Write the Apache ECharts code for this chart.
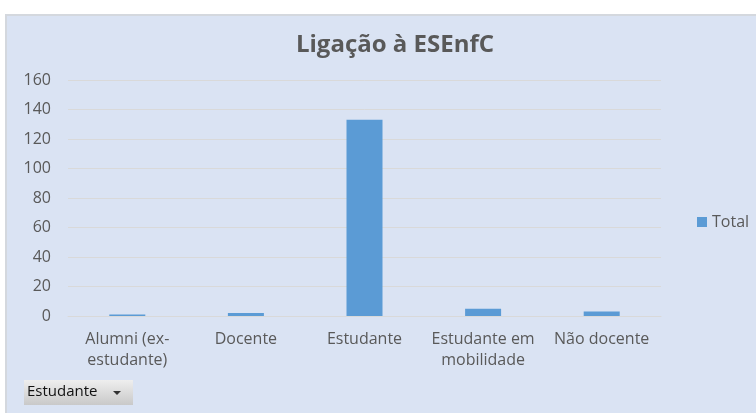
<!DOCTYPE html>
<html><head><meta charset="utf-8">
<script src="https://cdn.jsdelivr.net/npm/echarts@6/dist/echarts.min.js"></script>
<style>html,body{margin:0;padding:0;background:#fff}#c{width:756px;height:413px}</style>
</head><body><div id="c"></div>
<script>
const categories = ["Alumni (ex-\nestudante)", "Docente", "Estudante", "Estudante em\nmobilidade", "Não docente"];
const totals = [1, 2, 133, 5, 3];
const yTicks = {min: 0, max: 160, interval: 20};
const titleText = "Ligação à ESEnfC";
const seriesName = "Total";
const filterLabel = "Estudante";

const chart = echarts.init(document.getElementById('c'));
const font = "'Open Sans', 'Noto Sans', sans-serif";
chart.setOption({
  backgroundColor: '#ffffff',
  animation: false,
  graphic: [
    {type: 'rect', z: -10, shape: {x: 6, y: 15, width: 752, height: 400},
     style: {fill: '#dae3f3', stroke: '#d4d8de', lineWidth: 2}},
    {type: 'rect', shape: {x: 24, y: 380, width: 109, height: 25},
     style: {fill: {type: 'linear', x: 0, y: 0, x2: 0, y2: 1,
       colorStops: [{offset: 0, color: '#eeeeee'}, {offset: 1, color: '#c9c9c9'}]}}},
    {type: 'text', left: 27, top: 384,
     style: {text: filterLabel, font: "15px " + font, fill: '#111'}},
    {type: 'polygon', shape: {points: [[113, 391], [121, 391], [117, 395]]}, style: {fill: '#333'}}
  ],
  title: {
    text: titleText, left: 390, top: 28, textAlign: 'center',
    textStyle: {fontFamily: font, fontSize: 24, fontWeight: 'bold', color: '#595959'}
  },
  legend: {
    data: [seriesName], orient: 'vertical', left: 692, top: 209,
    itemWidth: 10, itemHeight: 10, itemGap: 5,
    textStyle: {fontFamily: font, fontSize: 16, color: '#595959'},
    icon: 'rect'
  },
  grid: {left: 68, right: 95, top: 80, bottom: 97},
  xAxis: {
    type: 'category', data: categories,
    axisLine: {lineStyle: {color: '#d9d9d9', width: 1}},
    axisTick: {show: false},
    axisLabel: {fontFamily: font, fontSize: 16, color: '#595959', margin: 13, lineHeight: 21, interval: 0}
  },
  yAxis: {
    type: 'value', min: yTicks.min, max: yTicks.max, interval: yTicks.interval,
    axisLine: {show: false}, axisTick: {show: false},
    splitLine: {lineStyle: {color: '#d9d9d9', width: 1}},
    axisLabel: {fontFamily: font, fontSize: 16, color: '#595959', margin: 17}
  },
  series: [{
    name: seriesName, type: 'bar', data: totals, barWidth: 36,
    itemStyle: {color: '#5b9bd5'}
  }]
});
</script></body></html>
